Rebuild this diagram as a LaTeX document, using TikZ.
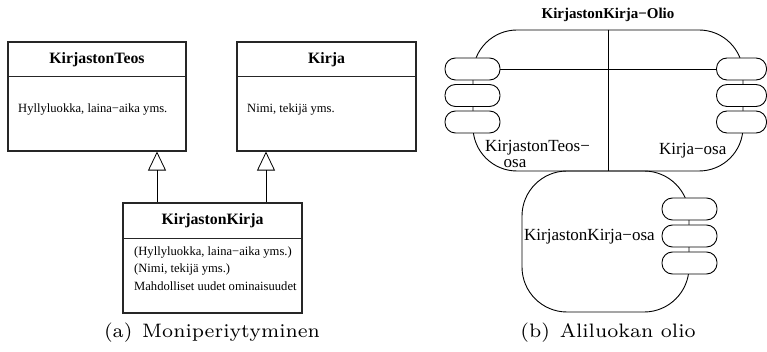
\documentclass[tikz,border=0pt]{standalone}
\usepackage{fontspec}
\usepackage{graphicx}
\usetikzlibrary{arrows.meta}
\newfontfamily\tms{Liberation Serif}
\begin{document}
\begin{tikzpicture}[x=1pt,y=-1pt,
  classbox/.style={draw=black!85,line width=1.1pt,inner sep=0pt},
  divider/.style={draw=black!85,line width=0.9pt},
  clstitle/.style={font=\tms\bfseries\fontsize{15.8}{18}\selectfont,inner sep=0pt},
  clsbody/.style={font=\tms\fontsize{12.6}{17.5}\selectfont,inner sep=0pt,align=left},
  inherit/.style={line width=0.8pt,-{Triangle[open,length=19pt,width=18pt,line width=0.8pt]}},
  objpart/.style={draw,line width=0.9pt,inner sep=0pt},
  pill/.style={draw,fill=white,line width=0.9pt,rounded corners=10.5pt,
    minimum height=22pt,minimum width=55pt,inner sep=0pt},
  partlabel/.style={font=\tms\fontsize{17}{16}\selectfont,inner sep=0pt,align=left},
  objtitle/.style={font=\tms\bfseries\fontsize{15}{18}\selectfont,inner sep=0pt},
  subcap/.style={inner sep=0pt}]
\useasboundingbox (0,0) rectangle (767,352);

% ---------- (a) multiple inheritance ----------
\node[classbox,minimum width=178pt,minimum height=109pt] (teos) at (97,96.5) {};
\draw[divider] ([yshift=-35pt]teos.north west) -- ([yshift=-35pt]teos.north east);
\node[clstitle] (teosT) at (97,59.5) {KirjastonTeos};
\node[clsbody,anchor=west] (teosB) at (18,109) {Hyllyluokka, laina−aika yms.};

\node[classbox,minimum width=179pt,minimum height=109pt] (kirja) at (326.5,96.5) {};
\draw[divider] ([yshift=-35pt]kirja.north west) -- ([yshift=-35pt]kirja.north east);
\node[clstitle] (kirjaT) at (326.5,59.5) {Kirja};
\node[clsbody,anchor=west] (kirjaB) at (247,109) {Nimi, tekijä yms.};

\node[classbox,minimum width=179pt,minimum height=110pt] (kk) at (212.5,258) {};
\draw[divider] ([yshift=-36pt]kk.north west) -- ([yshift=-36pt]kk.north east);
\node[clstitle] (kkT) at (212.5,221) {KirjastonKirja};
\node[clsbody,anchor=west] (kkB) at (134,268.5)
  {(Hyllyluokka, laina−aika yms.)\\(Nimi, tekijä yms.)\\Mahdolliset uudet ominaisuudet};

\coordinate (ax1) at (157,0);
\coordinate (ax2) at (266,0);
\draw[inherit] (kk.north -| ax1) -- (teos.south -| ax1);
\draw[inherit] (kk.north -| ax2) -- (kirja.south -| ax2);

\node[subcap] (capa) at (212,333)
  {\scalebox{2.78}{\fontsize{7}{8}\selectfont (a)\enspace Moniperiytyminen}};

% ---------- (b) subclass object ----------
\node[objtitle] (objT) at (608,15) {KirjastonKirja−Olio};

\node[objpart,rounded corners=44pt,minimum width=270pt,minimum height=141pt] (obj) at (608,100.5) {};
\node[objpart,rounded corners=45pt,minimum width=167pt,minimum height=141pt] (sub) at (605.5,241.5) {};
\draw[line width=0.9pt] (obj.north) -- (obj.south);

\node[pill] (lp1) at (472.5,69) {};
\node[pill] (lp2) at (472.5,95.5) {};
\node[pill] (lp3) at (472.5,122) {};
\node[pill,minimum width=50pt] (rp1) at (741.5,69) {};
\node[pill,minimum width=50pt] (rp2) at (741.5,95.5) {};
\node[pill,minimum width=50pt] (rp3) at (741.5,122) {};
\node[pill] (bp1) at (689.5,209) {};
\node[pill] (bp2) at (689.5,236) {};
\node[pill] (bp3) at (689.5,263) {};
\draw[line width=0.9pt] (lp1.east) -- (rp1.west);

\node[partlabel,anchor=west] (teosL) at (485,154) {KirjastonTeos−\\\hspace*{18.5pt}osa};
\node[partlabel,anchor=west] (kirjaL) at (659,151) {Kirja−osa};
\node[partlabel,anchor=west] (kkL) at (524,237) {KirjastonKirja−osa};

\node[subcap] (capb) at (608,333)
  {\scalebox{2.78}{\fontsize{7}{8}\selectfont (b)\enspace Aliluokan olio}};
\end{tikzpicture}
\end{document}
